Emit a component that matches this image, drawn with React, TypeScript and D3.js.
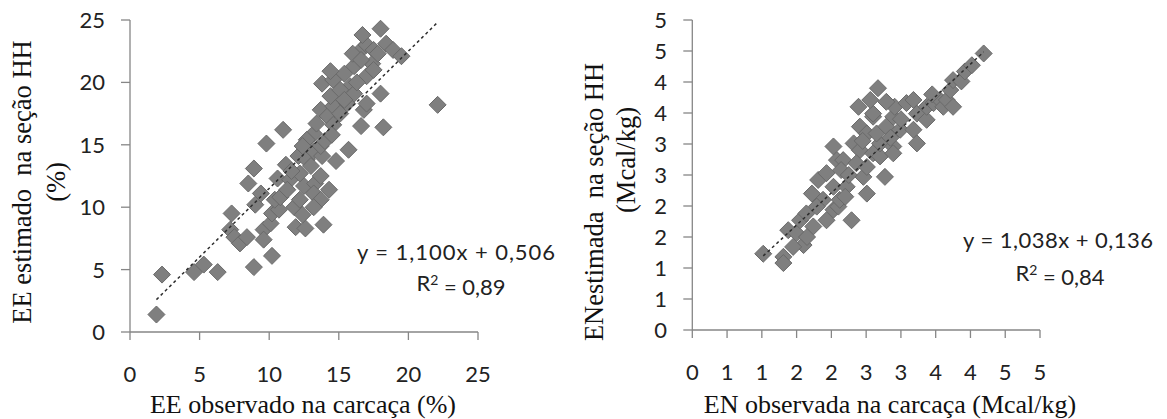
import React from "react";
import * as d3 from "d3";

// ---------- Data ----------
const eeObserved = [1.9, 2.3, 4.6, 5.3, 6.3, 8.9, 10.2, 7.3, 7.2, 7.5, 7.9, 8.4, 8.5, 8.9, 9.8, 11.0, 9.0, 9.4, 9.6, 9.6, 10.1, 10.2, 10.7, 10.4, 10.8, 10.6, 11.2, 11.5, 11.3, 11.8, 11.9, 12.6, 12.4, 12.2, 12.5, 12.2, 12.1, 12.7, 13.2, 13.0, 13.3, 13.2, 13.7, 13.2, 14.3, 13.9, 13.7, 13.8, 13.7, 14.8, 15.7, 13.2, 13.4, 13.7, 14.2, 14.6, 14.4, 14.6, 15.1, 13.8, 14.6, 15.4, 14.4, 15.8, 16.1, 16.6, 16.0, 17.0, 16.7, 17.5, 17.4, 17.0, 17.5, 16.6, 18.0, 16.6, 16.8, 17.0, 18.2, 18.0, 18.4, 18.9, 19.5, 22.1, 15.6, 16.1, 15.1, 15.4, 12.7, 12.4, 14.0, 14.5, 11.6, 16.3, 17.8];
const eeEstimated = [1.4, 4.6, 4.8, 5.4, 4.8, 5.2, 6.1, 9.5, 8.2, 7.6, 7.1, 7.6, 11.9, 13.1, 15.1, 16.2, 10.2, 11.1, 8.2, 7.4, 8.7, 9.5, 9.8, 10.6, 10.8, 12.3, 13.4, 12.2, 11.4, 10.0, 8.4, 8.3, 9.4, 10.6, 11.7, 12.7, 14.1, 13.8, 14.5, 13.3, 11.9, 11.1, 10.6, 10.0, 11.4, 8.6, 12.5, 14.1, 14.9, 13.7, 14.6, 15.9, 16.7, 17.8, 17.3, 18.1, 18.9, 16.6, 17.5, 19.9, 20.2, 20.7, 20.9, 19.7, 21.3, 22.6, 22.3, 23.0, 23.8, 22.6, 21.5, 20.5, 21.0, 21.8, 19.1, 16.5, 17.8, 18.3, 16.4, 24.3, 23.1, 22.6, 22.1, 18.2, 18.3, 19.1, 19.4, 18.6, 15.4, 14.9, 15.3, 15.8, 12.9, 20.0, 22.3];

const enObserved = [1.02, 1.31, 1.31, 1.38, 1.50, 1.60, 1.45, 1.55, 1.64, 1.74, 1.72, 1.81, 1.88, 1.93, 2.03, 2.10, 2.03, 2.08, 2.17, 2.03, 2.22, 2.29, 2.12, 2.32, 2.41, 2.36, 2.46, 2.51, 2.41, 2.51, 2.60, 2.60, 2.70, 2.77, 2.70, 2.65, 2.51, 2.79, 2.89, 2.91, 2.99, 2.89, 2.60, 2.67, 2.79, 3.08, 3.18, 3.23, 3.18, 3.23, 3.37, 3.37, 3.47, 3.56, 3.61, 3.66, 3.75, 3.71, 3.75, 3.87, 3.92, 4.02, 4.19, 2.39, 2.56, 2.89, 2.14, 1.93, 1.79, 2.25, 2.45, 3.00, 1.65, 2.20, 2.85, 3.45];
const enEstimated = [1.23, 1.18, 1.08, 1.61, 1.56, 1.37, 1.34, 1.77, 1.88, 1.67, 2.20, 2.42, 2.10, 1.77, 1.94, 1.99, 2.96, 2.74, 2.74, 2.31, 2.31, 1.77, 2.10, 3.01, 2.90, 2.69, 2.47, 2.20, 3.28, 3.17, 3.44, 2.85, 2.80, 2.47, 3.01, 3.17, 2.63, 3.28, 3.44, 3.60, 3.23, 2.96, 3.49, 3.90, 3.68, 3.66, 3.71, 3.49, 3.23, 3.01, 3.39, 3.60, 3.66, 3.71, 3.60, 3.71, 3.60, 3.87, 4.03, 4.01, 4.17, 4.27, 4.46, 3.60, 3.71, 2.85, 2.58, 2.53, 1.99, 2.50, 3.05, 3.40, 1.50, 2.15, 3.10, 3.80];

const leftTicks = [0, 5, 10, 15, 20, 25];
const leftTickLabels = ["0", "5", "10", "15", "20", "25"];
const rightTicks = [0, 0.5, 1, 1.5, 2, 2.5, 3, 3.5, 4, 4.5, 5];
const rightTickLabels = ["0", "1", "1", "2", "2", "3", "3", "4", "4", "5", "5"];

const leftFit = { slope: 1.1, intercept: 0.506 };
const rightFit = { slope: 1.038, intercept: 0.136 };
const leftEquation = ["y = 1,100x + 0,506", "0,89"];
const rightEquation = ["y = 1,038x + 0,136", "0,84"];

const leftTitles = { x: "EE observado na carcaça (%)", y1: "EE estimado  na seção HH", y2: "(%)" };
const rightTitles = { x: "EN observada na carcaça (Mcal/kg)", y1: "ENestimada  na seção HH", y2: "(Mcal/kg)" };

// ---------- Style ----------
const AXIS = "#868686";
const MARK_FILL = "#7f7f7f";
const MARK_STROKE = "#6a6a6a";
const NUM_FONT = "Lato, 'Open Sans', sans-serif";
const SERIF = "'Liberation Serif', 'DejaVu Serif', serif";

function diamond(cx: number, cy: number, r: number) {
  return `M${cx},${cy - r}L${cx + r},${cy}L${cx},${cy + r}L${cx - r},${cy}Z`;
}

type PanelProps = {
  xs: number[];
  ys: number[];
  ticks: number[];
  tickLabels: string[];
  domain: [number, number];
  xRange: [number, number];
  yRange: [number, number];
  fit: { slope: number; intercept: number };
  eq: string[];
  eqPos: { x1: number; y1: number; w1: number; x2: number; y2: number };
  titles: { x: string; y1: string; y2: string };
  xTitlePos: { x: number; y: number };
  yTitlePos: { x1: number; c1: number; x2: number; c2: number };
  labelRight: number;
};

function Panel(p: PanelProps) {
  const x = d3.scaleLinear().domain(p.domain).range(p.xRange);
  const y = d3.scaleLinear().domain(p.domain).range(p.yRange);
  const x0 = p.xRange[0];
  const y0 = p.yRange[0];
  const xmin = d3.min(p.xs)!;
  const xmax = d3.max(p.xs)!;
  const f = (v: number) => p.fit.slope * v + p.fit.intercept;
  const line = d3.line<number>().x((v) => x(v)).y((v) => y(f(v)));
  return (
    <g>
      {/* axes */}
      <line x1={x0} x2={x0} y1={p.yRange[1]} y2={y0} stroke={AXIS} strokeWidth={1.3} />
      <line x1={x0} x2={p.xRange[1]} y1={y0} y2={y0} stroke={AXIS} strokeWidth={1.3} />
      {p.ticks.map((t, i) => (
        <g key={"yt" + i}>
          <line x1={x0 - 9} x2={x0} y1={y(t)} y2={y(t)} stroke={AXIS} strokeWidth={1.3} />
          <text x={p.labelRight} y={y(t)} dy="0.36em" textAnchor="end" fontFamily={NUM_FONT} fontSize={22} fill="#222">
            {p.tickLabels[i]}
          </text>
        </g>
      ))}
      {p.ticks.map((t, i) => (
        <g key={"xt" + i}>
          <line x1={x(t)} x2={x(t)} y1={y0} y2={y0 + 8} stroke={AXIS} strokeWidth={1.3} />
          <text x={x(t)} y={y0 + 42} dy="0.36em" textAnchor="middle" fontFamily={NUM_FONT} fontSize={22} fill="#222">
            {p.tickLabels[i]}
          </text>
        </g>
      ))}
      {/* points */}
      {p.xs.map((v, i) => (
        <path key={"pt" + i} d={diamond(x(v), y(p.ys[i]), 8.5)} fill={MARK_FILL} stroke={MARK_STROKE} strokeWidth={1} />
      ))}
      {/* trend line */}
      <path d={line([xmin, xmax]) || ""} fill="none" stroke="#2e2e2e" strokeWidth={1.5} strokeDasharray="3 3" />
      {/* equation */}
      <text
        x={p.eqPos.x1}
        y={p.eqPos.y1}
        dy="0.36em"
        textAnchor="middle"
        fontFamily={NUM_FONT}
        fontSize={22}
        fill="#222"
        textLength={p.eqPos.w1}
        lengthAdjust="spacing"
      >
        {p.eq[0]}
      </text>
      <text x={p.eqPos.x2} y={p.eqPos.y2} dy="0.36em" textAnchor="middle" fontFamily={NUM_FONT} fontSize={22} fill="#222">
        R<tspan dy="-0.45em" fontSize={14}>2</tspan>
        <tspan dy="0.45em">{" = " + p.eq[1]}</tspan>
      </text>
      {/* titles */}
      <text x={p.xTitlePos.x} y={p.xTitlePos.y} dy="0.3em" textAnchor="middle" fontFamily={SERIF} fontSize={26} fill="#111">
        {p.titles.x}
      </text>
      <text
        transform={`translate(${p.yTitlePos.x1},${p.yTitlePos.c1}) rotate(-90)`}
        dy="0.3em"
        textAnchor="middle"
        fontFamily={SERIF}
        fontSize={26.5}
        fill="#111"
        style={{ whiteSpace: "pre" }}
      >
        {p.titles.y1}
      </text>
      <text
        transform={`translate(${p.yTitlePos.x2},${p.yTitlePos.c2}) rotate(-90)`}
        dy="0.3em"
        textAnchor="middle"
        fontFamily={SERIF}
        fontSize={26.5}
        fill="#111"
      >
        {p.titles.y2}
      </text>
    </g>
  );
}

export default function App() {
  return (
    <svg
      width={1167}
      height={419}
      viewBox="0 0 1167 419"
      style={{ position: "absolute", left: 0, top: 0, background: "#fff", display: "block" }}
    >
      <rect width={1167} height={419} fill="#fff" />
      <Panel
        xs={eeObserved}
        ys={eeEstimated}
        ticks={leftTicks}
        tickLabels={leftTickLabels}
        domain={[0, 25]}
        xRange={[130, 478]}
        yRange={[332, 20]}
        fit={leftFit}
        eq={leftEquation}
        eqPos={{ x1: 456, y1: 252, w1: 198, x2: 461, y2: 283 }}
        titles={leftTitles}
        xTitlePos={{ x: 303, y: 405 }}
        yTitlePos={{ x1: 23, c1: 182, x2: 57, c2: 182 }}
        labelRight={105}
      />
      <Panel
        xs={enObserved}
        ys={enEstimated}
        ticks={rightTicks}
        tickLabels={rightTickLabels}
        domain={[0, 5]}
        xRange={[692.3, 1040]}
        yRange={[330, 20]}
        fit={rightFit}
        eq={rightEquation}
        eqPos={{ x1: 1058, y1: 240, w1: 190, x2: 1060, y2: 273 }}
        titles={rightTitles}
        xTitlePos={{ x: 890, y: 405 }}
        yTitlePos={{ x1: 595, c1: 202, x2: 627, c2: 160 }}
        labelRight={667}
      />
    </svg>
  );
}
